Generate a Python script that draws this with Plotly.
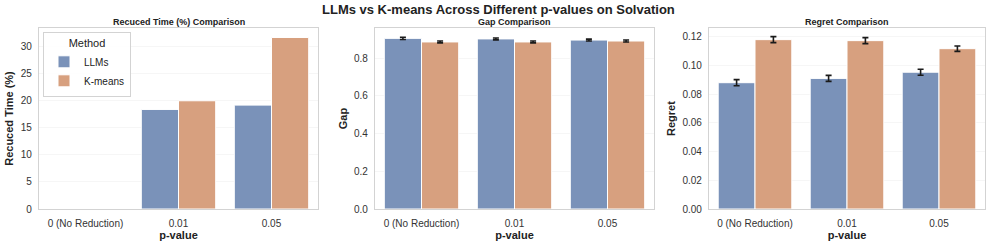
import plotly.graph_objects as go

categories = ["0 (No Reduction)", "0.01", "0.05"]
methods = ["LLMs", "K-means"]

time_llms = [0.0, 18.4, 19.2]
time_kmeans = [0.0, 20.0, 31.7]

gap_llms = [0.906, 0.903, 0.897]
gap_kmeans = [0.887, 0.887, 0.892]
gap_err_llms = [0.006, 0.005, 0.005]
gap_err_kmeans = [0.005, 0.005, 0.005]

regret_llms = [0.0880, 0.0910, 0.0953]
regret_kmeans = [0.1180, 0.1173, 0.1117]
regret_err_llms = [0.0021, 0.0021, 0.0021]
regret_err_kmeans = [0.0021, 0.0021, 0.0019]

colors = {"LLMs": "#7A92B9", "K-means": "#D7A07F"}
FONT = "Liberation Sans, Arial, sans-serif"

fig = go.Figure()

def add_bars(xaxis, yaxis, vals, errs, name, show):
    err = None
    if errs is not None:
        err = dict(type="data", array=errs, visible=True, color="#1a1a1a", thickness=1.6, width=3)
    fig.add_trace(go.Bar(
        x=categories, y=vals, name=name, xaxis=xaxis, yaxis=yaxis,
        marker=dict(color=colors[name], line=dict(color="white", width=1)),
        error_y=err, showlegend=show, legendgroup=name, offsetgroup=name,
    ))

add_bars("x", "y", time_llms, None, "LLMs", True)
add_bars("x", "y", time_kmeans, None, "K-means", True)
add_bars("x2", "y2", gap_llms, gap_err_llms, "LLMs", False)
add_bars("x2", "y2", gap_kmeans, gap_err_kmeans, "K-means", False)
add_bars("x3", "y3", regret_llms, regret_err_llms, "LLMs", False)
add_bars("x3", "y3", regret_kmeans, regret_err_kmeans, "K-means", False)

W, H = 996, 246
doms = [(39, 318), (375, 654), (709, 985)]
ydom = [(H - 209) / H, (H - 28) / H]

axis_common = dict(showline=True, mirror=True, linecolor="#d3d3d3", linewidth=1.3,
                   tickfont=dict(size=10, color="#333333", family=FONT),
                   ticks="outside", tickcolor="rgba(0,0,0,0)", automargin=False)
ranges = [[0, 33.45], [0, 0.961], [0, 0.1261]]
dticks = [5, 0.2, 0.02]
fmts = ["d", ".1f", ".2f"]
ytitles = ["Recuced Time (%)", "Gap", "Regret"]

layout = dict(
    width=W, height=H, margin=dict(l=0, r=0, t=0, b=0, autoexpand=False),
    paper_bgcolor="white", plot_bgcolor="white",
    barmode="group", bargap=0.2, bargroupgap=0,
    font=dict(family=FONT, color="#333333"),
    showlegend=True,
    legend=dict(x=(43) / W, y=(H - 32) / H, xanchor="left", yanchor="top",
                bgcolor="rgba(255,255,255,0.9)", bordercolor="#d3d3d3", borderwidth=1,
                title=dict(text="Method", side="top center", font=dict(size=11, color="#222222")),
                font=dict(size=10, color="#222222"), tracegroupgap=0, itemwidth=30),
)
for i in range(3):
    sfx = "" if i == 0 else str(i + 1)
    layout["xaxis" + sfx] = dict(axis_common, domain=[doms[i][0] / W, doms[i][1] / W],
                                 anchor="y" + sfx, showgrid=False, ticklen=5,
                                 title=dict(text="<b>p-value</b>", font=dict(size=11, color="#222222"), standoff=1))
    layout["yaxis" + sfx] = dict(axis_common, domain=ydom, anchor="x" + sfx, range=ranges[i],
                                 dtick=dticks[i], tick0=0, tickformat=fmts[i], ticklen=4,
                                 showgrid=True, gridcolor="#f6f6f6", gridwidth=1, zeroline=False,
                                 title=dict(text="<b>" + ytitles[i] + "</b>", font=dict(size=11, color="#222222"), standoff=4))
fig.update_layout(**layout)

sub_titles = ["Recuced Time (%) Comparison", "Gap Comparison", "Regret Comparison"]
for i, t in enumerate(sub_titles):
    fig.add_annotation(text="<b>" + t + "</b>", xref="paper", yref="paper",
                       x=(doms[i][0] + doms[i][1]) / 2 / W, y=(H - 21.5) / H,
                       xanchor="center", yanchor="middle",
                       showarrow=False, font=dict(size=9, color="#222222"))
fig.add_annotation(text="<b>LLMs vs K-means Across Different p-values on Solvation</b>",
                   xref="paper", yref="paper", x=0.5, y=(H - 9.5) / H, showarrow=False,
                   xanchor="center", yanchor="middle",
                   font=dict(size=13, color="#222222"))

fig.write_html("out.html", config={"displayModeBar": False},
               post_script="document.body.style.margin='0';document.body.style.padding='0';")
